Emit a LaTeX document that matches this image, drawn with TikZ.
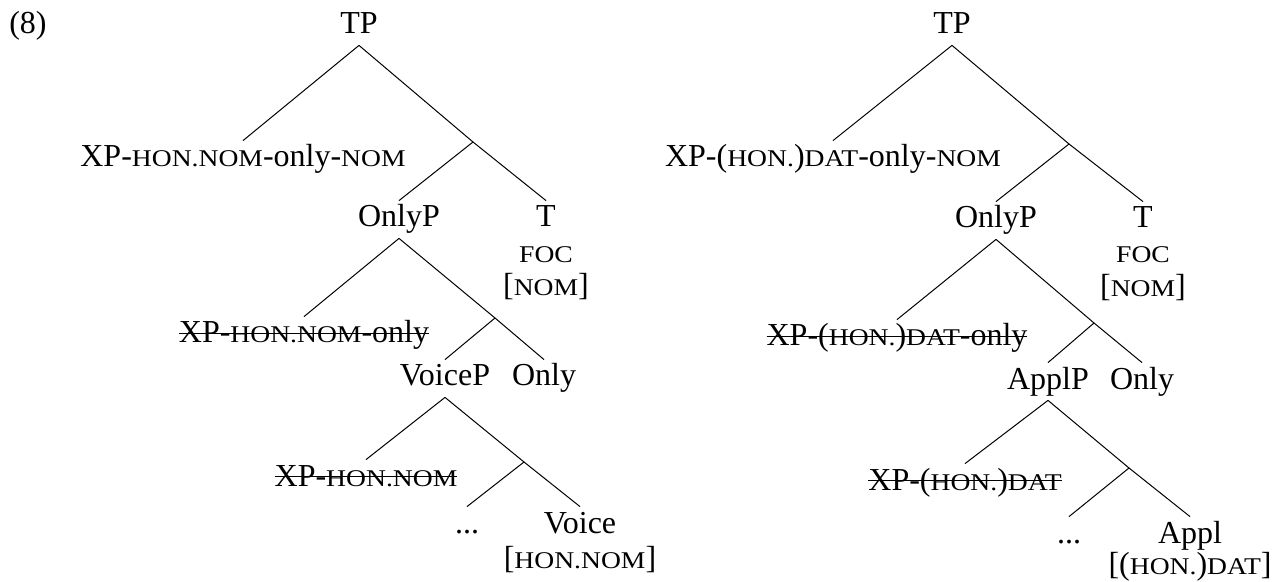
\documentclass[tikz,border=0pt]{standalone}
\usepackage{fontspec}
\setmainfont{Liberation Serif}
\newfontfamily\capsfont[FakeStretch=1.15]{Liberation Serif}
% small capitals for glosses
\newcommand\smc[1]{{\fontsize{12}{14}\capsfont #1}}
% struck-through (deleted) copy
\newcommand\strk[1]{\setbox0=\hbox{#1}\rlap{\rule[0.28em]{\wd0}{0.5pt}}\box0}
\tikzset{
  lab/.style={anchor=base, inner xsep=0pt, inner ysep=1.5pt,
    text height=11.5pt, text depth=4pt, font=\fontsize{16}{19}\selectfont},
  feat/.style={anchor=base, inner sep=0pt, font=\fontsize{16}{19}\selectfont},
  edge/.style={line width=0.5pt}
}
\begin{document}
\begin{tikzpicture}[x=0.5pt,y=-0.5pt]
\useasboundingbox (0,0) rectangle (1273,582);

\node[feat] (ex) at (28,34) {(8)};

% ---------- left tree ----------
\node[lab] (tpL) at (359,34) {TP};
\node[lab] (xpL) at (243,167) {XP-\smc{HON.NOM}-only-\smc{NOM}};
\coordinate (bL1) at (473,142);
\node[lab] (onlypL) at (399,227) {OnlyP};
\node[lab] (tL) at (546,227) {T};
\node[feat] (focL) at (546,263) {\smc{FOC}};
\node[feat] (nomL) at (546,296) {[\smc{NOM}]};
\node[lab] (xpL2) at (304,343) {\strk{XP-\smc{HON.NOM}-only}};
\coordinate (bL2) at (495,318);
\node[lab] (voicepL) at (445,386) {VoiceP};
\node[lab] (onlyL) at (544,386) {Only};
\node[lab] (xpL3) at (366,486) {\strk{XP-\smc{HON.NOM}}};
\coordinate (bL3) at (524,462);
\node[lab] (dotsL) at (467,533) {...};
\node[lab] (voiceL) at (580,533) {Voice};
\node[feat] (hnL) at (580,568) {[\smc{HON.NOM}]};

\draw[edge] (tpL.south) -- (xpL.north);
\draw[edge] (tpL.south) -- (bL1);
\draw[edge] (bL1) -- (onlypL.north);
\draw[edge] (bL1) -- (tL.north);
\draw[edge] (onlypL.south) -- (xpL2.north);
\draw[edge] (onlypL.south) -- (bL2);
\draw[edge] (bL2) -- (voicepL.north);
\draw[edge] (bL2) -- (onlyL.north);
\draw[edge] (voicepL.south) -- (xpL3.north);
\draw[edge] (voicepL.south) -- (bL3);
\draw[edge] (bL3) -- (dotsL.north);
\draw[edge] (bL3) -- (voiceL.north);

% ---------- right tree ----------
\node[lab] (tpR) at (952,34) {TP};
\node[lab] (xpR) at (833,167) {XP-(\smc{HON.})\smc{DAT}-only-\smc{NOM}};
\coordinate (bR1) at (1069,144);
\node[lab] (onlypR) at (996,228) {OnlyP};
\node[lab] (tR) at (1143,228) {T};
\node[feat] (focR) at (1143,263) {\smc{FOC}};
\node[feat] (nomR) at (1143,297) {[\smc{NOM}]};
\node[lab] (xpR2) at (897,346) {\strk{XP-(\smc{HON.})\smc{DAT}-only}};
\coordinate (bR2) at (1094,323);
\node[lab] (applpR) at (1048,389) {ApplP};
\node[lab] (onlyR) at (1142,389) {Only};
\node[lab] (xpR3) at (965,490) {\strk{XP-(\smc{HON.})\smc{DAT}}};
\coordinate (bR3) at (1129,468);
\node[lab] (dotsR) at (1069,543) {...};
\node[lab] (applR) at (1190,543) {Appl};
\node[feat] (hdR) at (1190,574) {[(\smc{HON.})\smc{DAT}]};

\draw[edge] (tpR.south) -- (xpR.north);
\draw[edge] (tpR.south) -- (bR1);
\draw[edge] (bR1) -- (onlypR.north);
\draw[edge] (bR1) -- (tR.north);
\draw[edge] (onlypR.south) -- (xpR2.north);
\draw[edge] (onlypR.south) -- (bR2);
\draw[edge] (bR2) -- (applpR.north);
\draw[edge] (bR2) -- (onlyR.north);
\draw[edge] (applpR.south) -- (xpR3.north);
\draw[edge] (applpR.south) -- (bR3);
\draw[edge] (bR3) -- (dotsR.north);
\draw[edge] (bR3) -- (applR.north);
\end{tikzpicture}
\end{document}
